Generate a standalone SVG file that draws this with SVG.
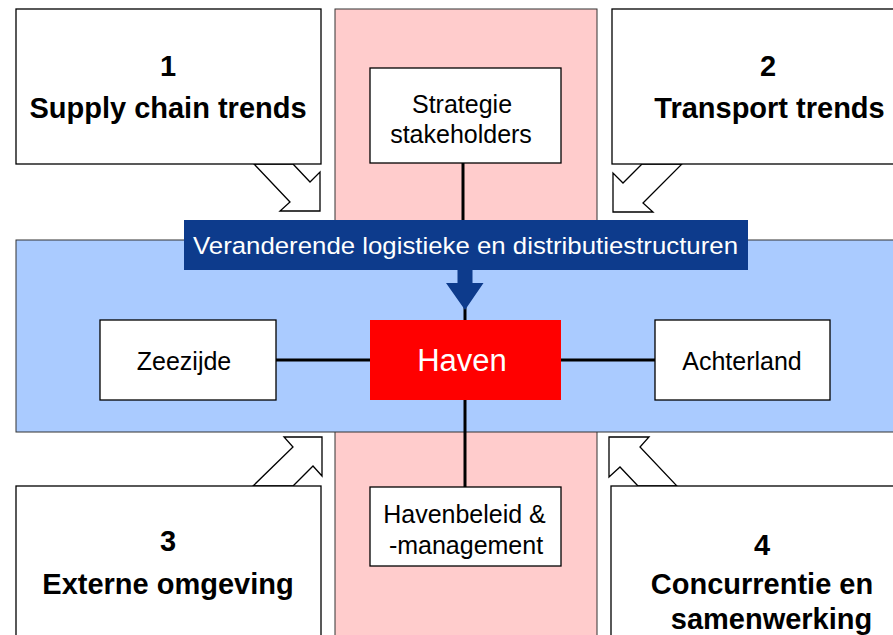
<svg xmlns="http://www.w3.org/2000/svg" width="893" height="635" viewBox="0 0 893 635">
<style>
.box{fill:#fff;stroke:#000;stroke-width:1.3}
.arr{fill:#fff;stroke:#000;stroke-width:1.3;stroke-linejoin:miter}
.big{font-family:"Liberation Sans",Arial,sans-serif;font-weight:bold;font-size:29px;fill:#000;text-anchor:middle}
.t{font-family:"Liberation Sans",Arial,sans-serif;font-size:25px;fill:#000;text-anchor:middle}
.ln{stroke:#000;stroke-width:3;fill:none}
</style>
<rect width="893" height="635" fill="#fff"/>
<g id="strip"><rect x="335" y="9" width="262" height="640" fill="#FFCCCC" stroke="#333" stroke-width="1"/></g>
<g id="band"><rect x="16" y="240" width="890" height="192" fill="#AACBFF" stroke="#333" stroke-width="1"/></g>
<g id="connectors">
<line class="ln" x1="463" y1="163" x2="463" y2="222"/>
<line class="ln" x1="465" y1="305" x2="465" y2="320"/>
<line class="ln" x1="276" y1="360" x2="370" y2="360"/>
<line class="ln" x1="561" y1="360" x2="655" y2="360"/>
<line class="ln" x1="465" y1="400" x2="465" y2="487"/>
<polygon points="457.5,268 472.5,268 472.5,283 483.5,283 465,310 446,283 457.5,283" fill="#0D3B8C"/>
<polygon class="arr" points="254,164 290,202 280,211 320,211 320,172 310,182 293,164"/>
<polygon class="arr" points="642,164 623,183 613,173 613,212 653,212 643,203 682,164"/>
<polygon class="arr" points="253,486 293,447 284,437 322,437 322,476 313,466 293,486"/>
<polygon class="arr" points="638,486 620,467 609,477 609,437 649,437 640,447 677,486"/>
</g>
<g id="n1"><rect class="box" x="16" y="9" width="305" height="155"/>
<text class="big" x="168" y="76">1</text><text class="big" x="168" y="118">Supply chain trends</text></g>
<g id="n2"><rect class="box" x="612" y="9" width="300" height="155"/>
<text class="big" x="768" y="76">2</text><text class="big" x="769.5" y="118">Transport trends</text></g>
<g id="n3"><rect class="box" x="16" y="486" width="305" height="160"/>
<text class="big" x="168" y="551">3</text><text class="big" x="168" y="594">Externe omgeving</text></g>
<g id="n4"><rect class="box" x="611" y="486" width="300" height="160"/>
<text class="big" x="762" y="555">4</text><text class="big" x="762" y="594">Concurrentie en</text><text class="big" x="771.5" y="629">samenwerking</text></g>
<g id="strategie"><rect class="box" x="370" y="68" width="191" height="95"/>
<text class="t" x="462" y="113">Strategie</text><text class="t" x="461" y="143">stakeholders</text></g>
<g id="title"><rect x="184" y="220" width="564" height="50" fill="#0D3B8C"/>
<text x="465.5" y="254" font-family="Liberation Sans,Arial,sans-serif" font-size="24.5" fill="#fff" text-anchor="middle" textLength="545" lengthAdjust="spacingAndGlyphs">Veranderende logistieke en distributiestructuren</text></g>
<g id="zeezijde"><rect class="box" x="100" y="320" width="176" height="80"/>
<text class="t" x="184" y="370">Zeezijde</text></g>
<g id="haven"><rect x="370" y="320" width="191" height="80" fill="#FF0000"/>
<text x="462" y="371" font-family="Liberation Sans,Arial,sans-serif" font-size="31" fill="#fff" text-anchor="middle">Haven</text></g>
<g id="achterland"><rect class="box" x="655" y="320" width="175" height="80"/>
<text class="t" x="742" y="370">Achterland</text></g>
<g id="havenbeleid"><rect class="box" x="370" y="487" width="191" height="79"/>
<text class="t" x="464.5" y="523">Havenbeleid &amp;</text><text class="t" x="466" y="554">-management</text></g>
</svg>
